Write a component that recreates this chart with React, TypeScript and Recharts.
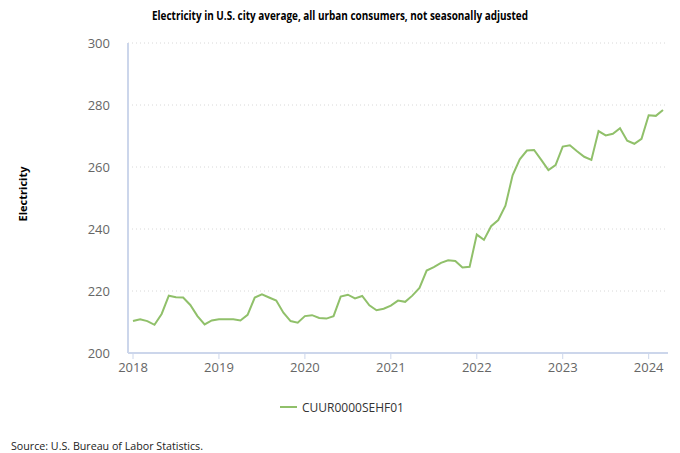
import React from 'react';
import { LineChart, Line, XAxis, YAxis, CartesianGrid, Legend } from 'recharts';

const years = ['2018', '2019', '2020', '2021', '2022', '2023', '2024'];
const monthNums = ['01', '02', '03', '04', '05', '06', '07', '08', '09', '10', '11', '12'];

const values2018 = [210.3, 210.9, 210.3, 209.1, 212.6, 218.5, 218.0, 217.9, 215.5, 211.9, 209.2, 210.5];
const values2019 = [210.9, 210.9, 210.9, 210.5, 212.3, 217.9, 218.9, 217.9, 216.9, 213.0, 210.3, 209.8];
const values2020 = [211.9, 212.2, 211.3, 211.1, 211.9, 218.2, 218.8, 217.6, 218.4, 215.4, 213.8, 214.3];
const values2021 = [215.3, 216.9, 216.5, 218.5, 221.0, 226.6, 227.7, 229.1, 229.9, 229.7, 227.6, 227.8];
const values2022 = [238.2, 236.5, 240.9, 242.9, 247.5, 257.3, 262.5, 265.3, 265.5, 262.3, 259.0, 260.6];
const values2023 = [266.6, 267.0, 265.1, 263.3, 262.3, 271.6, 270.2, 270.7, 272.5, 268.5, 267.5, 269.1];
const values2024 = [276.7, 276.5, 278.4];

const seriesValues = [values2018, values2019, values2020, values2021, values2022, values2023, values2024];
const yTicks = [200, 220, 240, 260, 280, 300];
const seriesName = 'CUUR0000SEHF01';

const data = seriesValues.flatMap((vals, yi) =>
  vals.map((v, mi) => ({ month: `${years[yi]}-${monthNums[mi]}`, value: v }))
);

const LINE_COLOR = '#90c06a';
const FONT = '"Open Sans", "Noto Sans", sans-serif';

const renderLegend = () => (
  <div style={{ width: 680, display: 'flex', justifyContent: 'center', alignItems: 'center' }}>
    <svg width={130} height={20} style={{ marginLeft: 5 }}>
      <line x1={2} y1={10} x2={19} y2={10} stroke={LINE_COLOR} strokeWidth={2} />
      <text x={24} y={14.5} fontFamily={FONT} fontSize={12} fill="#333">{seriesName}</text>
    </svg>
  </div>
);

export default function App() {
  return (
    <div style={{ position: 'absolute', left: 0, top: 0, width: 680, height: 453, background: '#fff' }}>
      <svg width={680} height={30} style={{ position: 'absolute', left: 0, top: 0 }}>
        <text x={152} y={20} fontFamily={FONT} fontWeight="bold" fontSize={12} fill="#000"
          textLength={376} lengthAdjust="spacingAndGlyphs">
          Electricity in U.S. city average, all urban consumers, not seasonally adjusted
        </text>
      </svg>
      <div style={{ position: 'absolute', left: 0, top: 0 }}>
        <LineChart width={680} height={453} data={data} margin={{ top: 43, right: 12, bottom: 70, left: 0 }}>
          <CartesianGrid vertical={false} stroke="#d8d8d8" strokeDasharray="1 3" />
          <XAxis
            dataKey="month"
            interval={11}
            height={30}
            padding={{ left: 5, right: 5 }}
            tickFormatter={(v: string) => v.slice(0, 4)}
            stroke="#ccd6eb"
            tickSize={6}
            tickMargin={4}
            tick={{ fill: '#666', fontSize: 13, fontFamily: FONT }}
            axisLine={{ stroke: '#ccd6eb', strokeWidth: 2 }}
            tickLine={{ stroke: '#ccd6eb' }}
          />
          <YAxis
            domain={[200, 300]}
            ticks={yTicks}
            width={128}
            tickLine={false}
            tickSize={10}
            tickMargin={8}
            axisLine={{ stroke: '#ccd6eb', strokeWidth: 2 }}
            tick={{ fill: '#666', fontSize: 13, fontFamily: FONT }}
            label={{
              content: () => (
                <text x={27} y={194} transform="rotate(-90 27 194)" textAnchor="middle"
                  fontFamily={FONT} fontWeight="bold" fontSize={11} fill="#000">
                  Electricity
                </text>
              ),
            }}
          />
          <Legend verticalAlign="middle" align="center" wrapperStyle={{ top: 397, left: 0 }} content={renderLegend} />
          <Line
            type="linear"
            dataKey="value"
            name={seriesName}
            stroke={LINE_COLOR}
            strokeWidth={2}
            dot={false}
            isAnimationActive={false}
          />
        </LineChart>
      </div>
      <svg width={680} height={20} style={{ position: 'absolute', left: 0, top: 436 }}>
        <text x={11} y={14} fontFamily={FONT} fontSize={11.5} fill="#222"
          textLength={192} lengthAdjust="spacingAndGlyphs">
          Source: U.S. Bureau of Labor Statistics.
        </text>
      </svg>
    </div>
  );
}
